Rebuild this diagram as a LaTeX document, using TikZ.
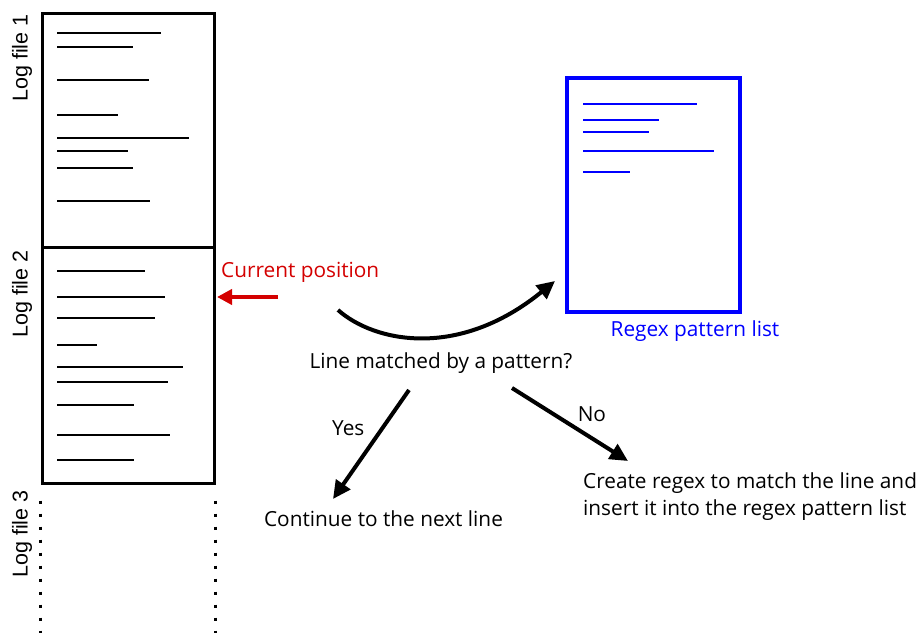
\documentclass[tikz,border=0pt]{standalone}
\usepackage{fontspec}
\setmainfont{Open Sans}
\newfontfamily\logfont{Liberation Sans}
\usepackage{tikz}
\usetikzlibrary{arrows.meta,positioning}
\definecolor{ink}{HTML}{000000}
\definecolor{cur}{HTML}{D40000}
\definecolor{rx}{HTML}{0000FF}
\tikzset{
  logbox/.style={draw=ink,line width=3pt,minimum width=172pt,inner sep=0pt},
  rxbox/.style={draw=rx,line width=3.5pt,minimum width=173pt,minimum height=234pt,inner sep=0pt},
  logline/.style={draw=ink,line width=2pt},
  rxline/.style={draw=rx,line width=2pt},
  dotcol/.style={draw=ink,line width=3pt,dash pattern=on 3pt off 10pt},
  loglbl/.style={font=\logfont\fontsize{21.5}{24}\selectfont,rotate=90,inner sep=0pt},
  txt/.style={font=\fontsize{20.8}{27}\selectfont,inner sep=0pt},
  arr/.style={-{Triangle[length=18pt,width=17pt]},line width=4pt,color=ink},
  redarr/.style={-{Triangle[length=15pt,width=15pt]},line width=4pt,color=cur}}
\begin{document}
\begin{tikzpicture}[x=1pt,y=-1pt]
\useasboundingbox[fill=white] (0,0) rectangle (922,639);
% log files
\node[logbox,minimum height=234pt] (log1) at (128,131) {};
\node[logbox,minimum height=235pt] (log2) at (128,365.5) {};
\foreach \y/\x in {33/161,47/133,80/149,115/118,138/189,151/128,168/133,201/150,
  271/145,297/165,318/155,345/97,367/183,382/168,405/134,435/170,460/134}
  \draw[logline] (57,\y) -- (\x,\y);
\draw[dotcol] ([yshift=-16pt]log2.south west) -- ++(0,132);
\draw[dotcol] ([yshift=-16pt]log2.south east) -- ++(0,132);
\node[loglbl] (lbl1) at (22,58) {Log file 1};
\node[loglbl] (lbl2) at (22,294) {Log file 2};
\node[loglbl] (lbl3) at (22,534) {Log file 3};
% regex list
\node[rxbox] (rxlist) at (653.5,195) {};
\foreach \y/\x in {104/697,120/659,132/649,151/714,172/630}
  \draw[rxline] (583,\y) -- (\x,\y);
\node[txt,text=rx,anchor=base] (rxname) at (695,337) {Regex pattern list};
% current position
\node[txt,text=cur,anchor=base west] (curpos) at (221,278) {Current position};
\coordinate (curS) at (278,297);
\coordinate (curE) at (217,297);
\draw[redarr] (curS) -- (curE);
% decision
\node[txt,anchor=base] (ask) at (441,369) {Line matched by a pattern?};
\coordinate (lookS) at (338,310);
\coordinate (lookE) at (555,281);
\draw[arr] (lookS) .. controls (374,342) and (458,360) .. (lookE);
\node[txt,anchor=base] (cont) at (383.5,526) {Continue to the next line};
\node[txt,align=left,anchor=west] (create) at (583,496.5) {Create regex to match the line and\\insert it into the regex pattern list};
\coordinate (yesS) at (409,390);
\coordinate (yesE) at (333,499);
\coordinate (noS) at (512,388);
\coordinate (noE) at (628,461);
\draw[arr] (yesS) -- node[txt,pos=0.35,left=16pt] (yes) {Yes} (yesE);
\draw[arr] (noS) -- node[txt,pos=0.55,above right=4pt and 0pt] (no) {No} (noE);
\end{tikzpicture}
\end{document}
